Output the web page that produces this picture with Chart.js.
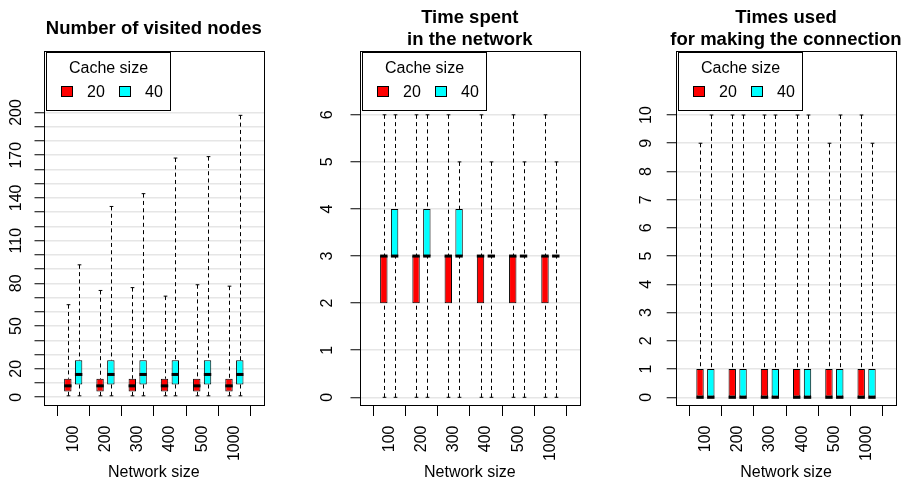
<!DOCTYPE html>
<html>
<head>
<meta charset="utf-8">
<script src="https://cdn.jsdelivr.net/npm/chart.js@4/dist/chart.umd.min.js"></script>
<style>
html,body{margin:0;padding:0;background:#fff;}
#wrap{position:relative;width:907px;height:483px;overflow:hidden;background:#fff;}
canvas{position:absolute;top:0;}
</style>
</head>
<body>
<div id="wrap">
<canvas id="c1" width="302" height="483" style="left:0px;width:302px;height:483px"></canvas>
<canvas id="c2" width="302" height="483" style="left:302px;width:302px;height:483px"></canvas>
<canvas id="c3" width="303" height="483" style="left:604px;width:303px;height:483px"></canvas>
</div>
<script>
// ---------- data ----------
const networkSizes = ['100', '200', '300', '400', '500', '1000'];
const cacheSizes = ['20', '40'];
const seriesColors = ['#ff0000', '#00ffff'];

// Number of visited nodes
const visitedLow20  = [1, 1, 1, 1, 1, 1];
const visitedQ1_20  = [4, 4, 4, 4, 4, 4];
const visitedMed20  = [8, 8, 8, 8, 8, 8];
const visitedQ3_20  = [13, 13, 13, 13, 13, 13];
const visitedHigh20 = [65, 75, 77, 71, 79, 78];
const visitedLow40  = [1, 1, 1, 1, 1, 1];
const visitedQ1_40  = [9, 9, 9, 9, 9, 9];
const visitedMed40  = [16, 16, 16, 16, 16, 16];
const visitedQ3_40  = [26, 26, 26, 26, 26, 26];
const visitedHigh40 = [93, 134, 143, 168, 169, 198];
const visitedTickValues = [0, 10, 20, 30, 40, 50, 60, 70, 80, 90, 100, 110, 120, 130, 140, 150, 160, 170, 180, 190, 200];
const visitedTickLabels = [0, 20, 50, 80, 110, 140, 170, 200];

// Time spent in the network
const timeLow20  = [0, 0, 0, 0, 0, 0];
const timeQ1_20  = [2, 2, 2, 2, 2, 2];
const timeMed20  = [3, 3, 3, 3, 3, 3];
const timeQ3_20  = [3, 3, 3, 3, 3, 3];
const timeHigh20 = [6, 6, 6, 6, 6, 6];
const timeLow40  = [0, 0, 0, 0, 0, 0];
const timeQ1_40  = [3, 3, 3, 3, 3, 3];
const timeMed40  = [3, 3, 3, 3, 3, 3];
const timeQ3_40  = [4, 4, 4, 3, 3, 3];
const timeHigh40 = [6, 6, 5, 5, 5, 5];
const timeTickValues = [0, 1, 2, 3, 4, 5, 6];
const timeTickLabels = [0, 1, 2, 3, 4, 5, 6];

// Times used for making the connection
const connLow20  = [0, 0, 0, 0, 0, 0];
const connQ1_20  = [0, 0, 0, 0, 0, 0];
const connMed20  = [0, 0, 0, 0, 0, 0];
const connQ3_20  = [1, 1, 1, 1, 1, 1];
const connHigh20 = [9, 10, 10, 10, 9, 10];
const connLow40  = [0, 0, 0, 0, 0, 0];
const connQ1_40  = [0, 0, 0, 0, 0, 0];
const connMed40  = [0, 0, 0, 0, 0, 0];
const connQ3_40  = [1, 1, 1, 1, 1, 1];
const connHigh40 = [10, 10, 10, 10, 10, 9];
const connTickValues = [0, 1, 2, 3, 4, 5, 6, 7, 8, 9, 10];
const connTickLabels = [0, 1, 2, 3, 4, 5, 6, 7, 8, 9, 10];

// ---------- layout / style ----------
const FONT = '"Liberation Sans", Arial, Helvetica, sans-serif';
Chart.defaults.font.family = FONT;
Chart.defaults.font.size = 16;
Chart.defaults.color = '#000';

const CANVAS_H = 483;
const PLOT_TOP = 50.7, PLOT_BOTTOM = 404.5, PLOT_W = 220.6;
const X_MIN = 0.078, X_MAX = 6.922;
// group slot and box width in x units
const GROUP_SPAN = 0.67, BOX_W = 0.2296, TICK_STEP = 0.5;

// x ticks: group boundaries (tick marks) and group centres (labels)
const xTickValues = [];
networkSizes.forEach((_, i) => { xTickValues.push(i + 0.5); xTickValues.push(i + 1); });
xTickValues.push(networkSizes.length + 0.5);

function boxPlugin(p) {
  return {
    id: 'boxextras' + p.id,
    afterDatasetsDraw(chart) {
      const ctx = chart.ctx, ys = chart.scales.y;
      p.series.forEach((s, di) => {
        const meta = chart.getDatasetMeta(di);
        meta.data.forEach((bar, i) => {
          const x = Math.round(bar.x) + 0.5, w = bar.width;
          const pl = ys.getPixelForValue(s.low[i]);
          const p1 = ys.getPixelForValue(s.q1[i]);
          const pm = ys.getPixelForValue(s.med[i]);
          const p3 = ys.getPixelForValue(s.q3[i]);
          const ph = ys.getPixelForValue(s.high[i]);
          ctx.save();
          ctx.strokeStyle = '#000';
          ctx.lineWidth = 1;
          ctx.setLineDash([4, 3.3]);
          ctx.beginPath();
          ctx.moveTo(x, ph); ctx.lineTo(x, p3);
          ctx.moveTo(x, pl); ctx.lineTo(x, p1);
          ctx.stroke();
          ctx.setLineDash([]);
          ctx.beginPath();
          ctx.moveTo(x - w / 4, ph); ctx.lineTo(x + w / 4, ph);
          ctx.moveTo(x - w / 4, pl); ctx.lineTo(x + w / 4, pl);
          ctx.stroke();
          ctx.lineWidth = 3;
          ctx.beginPath();
          ctx.moveTo(bar.x - w / 2, pm); ctx.lineTo(bar.x + w / 2, pm);
          ctx.stroke();
          ctx.restore();
        });
      });
    },
    afterDraw(chart) {
      const ctx = chart.ctx, a = chart.chartArea;
      ctx.save();
      // plot frame
      ctx.strokeStyle = '#000';
      ctx.lineWidth = 1;
      const l = Math.round(a.left) + 0.5, t = Math.round(a.top) + 0.5;
      const r = Math.round(a.right) + 0.5, b = Math.round(a.bottom) + 0.5;
      ctx.strokeRect(l, t, r - l, b - t);
      // title
      ctx.fillStyle = '#000';
      ctx.font = 'bold 18.5px ' + FONT;
      ctx.textAlign = 'center';
      ctx.textBaseline = 'alphabetic';
      const cx = (a.left + a.right) / 2;
      const n = p.title.length;
      p.title.forEach((line, k) => {
        const base = 33.85 + (k - (n - 1) / 2) * 22.3;
        ctx.fillText(line, cx, base);
      });
      // legend
      const lx = Math.round(a.left + 2) + 0.5, ly = 52.5, lw = 124, lh = 58;
      ctx.fillStyle = '#fff';
      ctx.fillRect(lx, ly, lw, lh);
      ctx.strokeRect(lx, ly, lw, lh);
      ctx.fillStyle = '#000';
      ctx.font = '16px ' + FONT;
      ctx.textAlign = 'center';
      ctx.fillText('Cache size', lx + lw / 2, ly + 20.3);
      const sqX = [14.5, 72.8], txX = [40.5, 98.5];
      chart.data.datasets.forEach((ds, k) => {
        const sx = Math.round(lx + sqX[k]) + 0.5, sy = Math.round(ly + 33.7) + 0.5;
        ctx.fillStyle = ds.backgroundColor;
        ctx.fillRect(sx, sy, 11, 10);
        ctx.strokeRect(sx, sy, 11, 10);
        ctx.fillStyle = '#000';
        ctx.textAlign = 'left';
        ctx.fillText(ds.label, lx + txX[k], ly + 44.3);
      });
      ctx.restore();
    }
  };
}

function makePanel(p) {
  const canvas = document.getElementById(p.id);
  const W = canvas.width;
  const datasets = p.series.map((s, k) => ({
    type: 'bar',
    label: cacheSizes[k],
    data: networkSizes.map((_, i) => ({ x: i + 1, y: [s.q1[i], s.q3[i]] })),
    backgroundColor: seriesColors[k],
    borderColor: '#000',
    borderWidth: 1,
    borderSkipped: false,
    categoryPercentage: GROUP_SPAN / TICK_STEP,
    barPercentage: BOX_W / (GROUP_SPAN / 2),
    inflateAmount: 0
  }));
  new Chart(canvas, {
    type: 'bar',
    data: { datasets },
    options: {
      responsive: false,
      animation: false,
      devicePixelRatio: 1,
      layout: { padding: { left: 0, top: PLOT_TOP, bottom: 0, right: W - (p.plotLeft + PLOT_W) } },
      plugins: { legend: { display: false }, title: { display: false }, tooltip: { enabled: false } },
      scales: {
        x: {
          type: 'linear', min: X_MIN, max: X_MAX, offset: false,
          afterBuildTicks: ax => { ax.ticks = xTickValues.map(v => ({ value: v })); },
          afterFit: ax => { ax.height = CANVAS_H - PLOT_BOTTOM; ax.paddingLeft = 0; ax.paddingRight = 0; },
          grid: {
            display: true, offset: false, drawOnChartArea: false, drawTicks: true, tickLength: 11.5,
            tickWidth: 1,
            tickColor: c => (c.tick && Number.isInteger(c.tick.value)) ? 'rgba(0,0,0,0)' : '#000'
          },
          border: { display: false },
          ticks: {
            autoSkip: false, minRotation: 90, maxRotation: 90, padding: 9.5, color: '#000',
            font: { size: 16 },
            callback: v => Number.isInteger(v) ? networkSizes[v - 1] : ''
          },
          title: { display: true, text: 'Network size', color: '#000', font: { size: 16 }, padding: { top: 0, bottom: 1 } }
        },
        y: {
          type: 'linear', min: p.yMin, max: p.yMax,
          afterBuildTicks: ax => { ax.ticks = p.yTicks.map(v => ({ value: v })); },
          afterFit: ax => { ax.width = p.plotLeft; ax.paddingTop = 0; ax.paddingBottom = 0; },
          grid: { color: '#e6e6e6', lineWidth: 1.5, tickColor: '#000', tickWidth: 1, tickLength: 9, drawTicks: true },
          border: { display: false },
          ticks: {
            autoSkip: false, minRotation: 90, maxRotation: 90, crossAlign: 'center',
            padding: p.yPad, color: '#000', font: { size: 16 },
            callback: v => p.yLabels.includes(v) ? String(v) : ''
          }
        }
      }
    },
    plugins: [boxPlugin(p)]
  });
}

makePanel({
  id: 'c1', plotLeft: 43.5, title: ['Number of visited nodes'],
  yMin: -5.1, yMax: 243.4, yTicks: visitedTickValues, yLabels: visitedTickLabels, yPad: 4.85,
  series: [
    { low: visitedLow20, q1: visitedQ1_20, med: visitedMed20, q3: visitedQ3_20, high: visitedHigh20 },
    { low: visitedLow40, q1: visitedQ1_40, med: visitedMed40, q3: visitedQ3_40, high: visitedHigh40 }
  ]
});
makePanel({
  id: 'c2', plotLeft: 57.5, title: ['Time spent', 'in the network'],
  yMin: -0.153, yMax: 7.362, yTicks: timeTickValues, yLabels: timeTickLabels, yPad: 18.35,
  series: [
    { low: timeLow20, q1: timeQ1_20, med: timeMed20, q3: timeQ3_20, high: timeHigh20 },
    { low: timeLow40, q1: timeQ1_40, med: timeMed40, q3: timeQ3_40, high: timeHigh40 }
  ]
});
makePanel({
  id: 'c3', plotLeft: 71.7, title: ['Times used', 'for making the connection'],
  yMin: -0.255, yMax: 12.278, yTicks: connTickValues, yLabels: connTickLabels, yPad: 11.1,
  series: [
    { low: connLow20, q1: connQ1_20, med: connMed20, q3: connQ3_20, high: connHigh20 },
    { low: connLow40, q1: connQ1_40, med: connMed40, q3: connQ3_40, high: connHigh40 }
  ]
});
</script>
</body>
</html>
